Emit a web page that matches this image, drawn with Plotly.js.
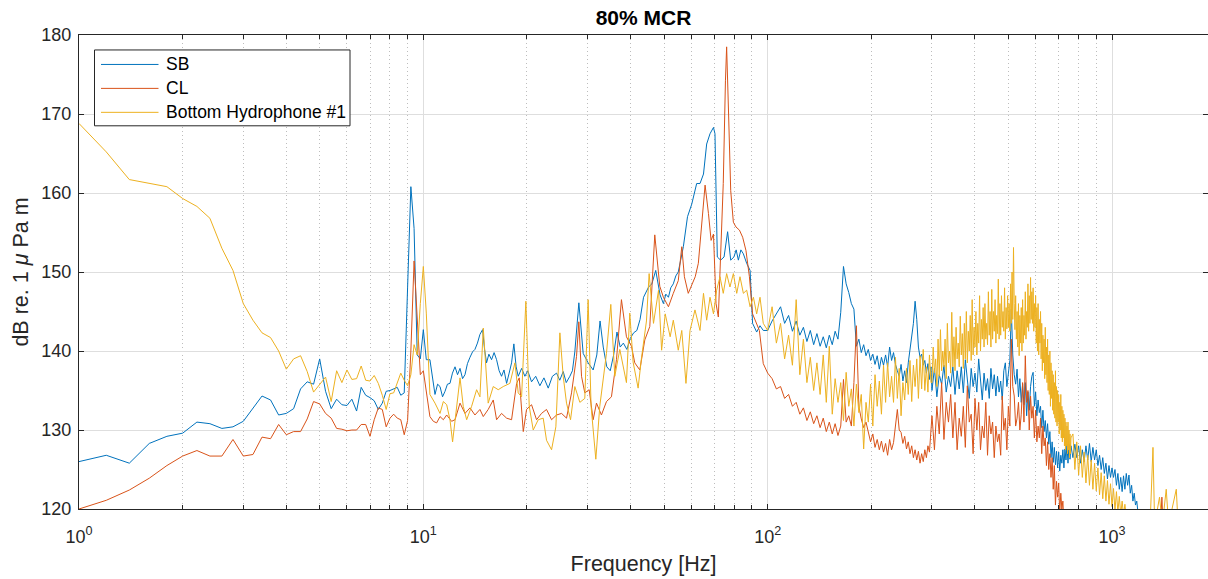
<!DOCTYPE html>
<html>
<head>
<meta charset="utf-8">
<script src="https://cdn.plot.ly/plotly-3.0.1.min.js"></script>
<style>html,body{margin:0;padding:0;background:#fff;}#chart{width:1208px;height:579px;}</style>
</head>
<body>
<div id="chart"></div>
<script>
// ================= DATA =================
// Frequency in Hz, level in dB re 1 uPa m

// 1 - 10 Hz, 0.2 Hz resolution (shared frequency axis)
var lowFreq = [1.0,1.2,1.4,1.6,1.8,2.0,2.2,2.4,2.6,2.8,
               3.0,3.2,3.4,3.6,3.8,4.0,4.2,4.4,4.6,4.8,
               5.0,5.2,5.4,5.6,5.8,6.0,6.2,6.4,6.6,6.8,
               7.0,7.2,7.4,7.6,7.8,8.0,8.2,8.4,8.6,8.8,
               9.0,9.2,9.4,9.6,9.8,10.0];
var sbLowDb = [126.0,126.8,125.8,128.3,129.2,129.6,131.0,130.8,130.2,130.4,
               131.1,132.8,134.3,133.8,131.9,132.1,132.7,135.2,136.1,135.8,
               139.0,134.9,132.7,133.9,133.2,133.1,133.9,132.4,135.4,134.4,
               134.1,133.7,132.6,133.4,134.9,135.0,135.2,135.4,134.4,134.7,
               148.0,160.8,155.5,139.5,139.0,142.7];
var clLowDb = [120.0,121.1,122.4,123.9,125.5,126.7,127.4,126.7,126.7,128.8,
               126.7,126.9,129.1,128.9,130.7,129.4,129.8,129.8,131.4,133.6,
               133.3,132.1,131.5,130.2,130.1,129.9,130.0,130.0,130.7,130.7,
               129.2,131.3,132.8,132.6,130.4,131.5,132.0,131.5,131.3,129.4,
               131.2,140.0,151.4,144.4,137.0,137.5];
var bhLowDb = [168.8,165.2,161.7,161.2,160.8,159.3,158.3,156.8,153.0,150.2,
               146.0,143.9,142.3,141.7,140.0,137.7,139.0,139.4,137.4,134.8,
               135.8,136.7,133.6,137.5,136.0,137.6,136.4,136.5,138.1,136.3,
               136.2,136.9,135.9,134.4,132.6,134.6,134.7,135.9,137.2,136.3,
               135.6,137.0,140.8,139.5,146.0,150.7];

// 10 - 100 Hz
var sbMidFreq = [10.2,10.45,10.81,11.0,11.18,11.37,11.56,11.75,11.95,12.15,
                 12.36,12.57,12.78,13.0,13.21,13.43,13.66,13.9,14.12,14.36,
                 14.6,14.86,15.06,15.26,15.5,15.78,16.05,16.32,16.6,16.87,
                 17.15,17.45,17.75,18.04,18.32,18.6,18.86,19.3,19.72,20.1,
                 20.62,21.2,21.8,22.4,23.05,23.7,24.37,24.9,25.48,26.0,
                 26.64,27.1,27.54,28.29,29.12,30.1,31.13,31.9,32.6,33.3,
                 34.1,34.9,35.7,36.5,37.3,38.1,39.0,39.9,40.8,41.7,
                 42.6,43.6,45.1,46.1,47.3,48.7,49.8,50.6,51.5,52.3,
                 53.2,54.1,55.0,56.9,58.5,60.2,62.2,63.6,65.1,66.5,
                 68.0,69.6,70.3,71.4,73.0,74.7,76.5,78.1,79.8,81.0,
                 82.2,83.6,85.0,86.9,88.9,90.4,92.9,95.0,97.1];
var sbMidDb = [138.9,138.9,134.5,135.8,135.5,134.2,134.9,135.8,135.9,137.2,
               138.0,137.0,137.8,136.5,137.0,138.4,139.2,139.9,140.2,141.0,
               142.1,142.7,140.2,138.5,139.6,138.9,139.8,138.9,137.5,136.8,
               137.6,135.9,137.2,138.5,140.9,138.0,136.8,137.8,136.8,137.5,
               136.1,136.8,135.6,136.6,135.3,136.8,137.2,136.3,137.4,136.0,
               136.8,137.5,139.9,146.1,139.7,138.5,137.6,139.5,143.8,140.5,
               138.0,137.5,139.5,142.4,140.5,141.0,140.2,141.6,142.3,142.6,
               144.0,146.8,148.1,148.5,150.2,147.1,146.0,147.2,146.8,148.0,
               148.5,149.5,150.0,153.2,157.0,158.6,161.2,161.2,162.4,166.2,
               167.5,168.3,167.5,151.9,151.5,151.9,155.1,151.5,151.9,152.8,
               151.5,152.8,152.3,151.1,150.2,143.5,142.4,143.2,142.6];

var clMidFreq = [10.22,10.45,10.69,10.93,11.18,11.43,11.69,12.08,12.36,12.78,
                 13.21,13.66,14.12,14.6,14.93,15.43,15.96,16.32,16.87,17.45,
                 18.04,18.66,18.99,19.51,19.94,20.62,21.32,22.04,22.79,23.57,
                 24.37,25.2,26.05,26.94,27.85,28.29,28.8,29.44,30.31,31.13,
                 31.83,32.9,34.03,35.18,36.38,37.61,38.89,40.22,41.12,42.52,
                 43.97,45.46,47.0,48.6,49.8,51.5,53.2,55.0,56.3,57.3,
                 58.8,60.2,61.6,62.9,64.4,65.8,67.3,68.5,69.6,70.8,
                 71.9,73.0,74.3,75.4,76.0,77.0,78.1,79.5,80.9,82.8,
                 84.6,86.5,88.5,90.4,92.5,94.6,97.1];
var clMidDb = [134.7,131.7,131.1,130.9,131.7,131.3,131.9,131.1,131.3,133.4,
               132.1,132.8,131.9,132.6,131.7,132.6,133.8,131.3,132.1,131.5,
               131.3,135.9,136.6,129.8,132.6,133.2,131.3,132.1,132.6,131.3,
               131.9,132.1,131.5,134.7,139.3,143.7,136.8,134.7,135.1,131.3,
               133.4,131.9,133.6,134.2,138.9,146.5,141.8,140.6,138.5,137.6,
               141.4,143.1,154.7,148.2,146.8,145.6,147.3,148.9,153.2,149.4,
               147.3,148.5,149.4,151.1,156.1,161.0,157.4,154.0,154.8,146.0,
               144.3,151.1,161.2,174.2,178.5,170.0,160.3,156.3,155.7,155.3,
               154.4,152.7,149.4,144.7,143.5,142.6,138.4];

var bhMidFreq = [10.2,10.45,10.81,11.18,11.43,11.69,11.95,12.16,12.49,12.78,
                 13.06,13.36,13.81,14.28,14.6,14.93,15.43,15.96,16.5,17.06,
                 17.84,18.45,18.86,19.29,19.85,20.3,20.85,21.56,22.29,22.79,
                 23.57,24.26,24.92,25.48,26.05,26.76,27.54,28.48,29.44,30.1,
                 30.7,31.69,32.54,34.03,35.03,35.98,37.2,38.89,39.77,40.66,
                 42.05,43.0,44.46,45.26,46.6,48.2,49.2,50.4,52.1,53.2,
                 55.0,56.3,57.9,59.5,61.5,63.6,65.1,66.5,68.0,69.6,
                 71.1,72.7,74.3,76.0,77.7,79.5,81.3,83.1,85.0,86.9,
                 88.9,90.9,92.9,95.0,97.1];
var bhMidDb = [144.8,134.5,133.4,132.1,133.6,133.2,131.3,128.5,133.0,136.6,
               133.0,131.3,133.0,135.1,134.2,142.9,133.4,135.5,135.1,135.5,
               135.9,138.5,134.7,134.2,146.3,133.0,130.0,131.3,131.5,128.7,
               127.5,130.4,142.3,136.8,133.4,131.3,135.5,133.5,134.0,146.5,
               133.0,126.3,133.0,139.7,145.9,136.8,140.2,136.0,144.8,138.6,
               135.3,139.1,143.8,149.8,143.5,147.7,140.1,144.7,141.8,143.9,
               140.1,142.6,135.9,142.6,145.2,142.6,147.3,143.9,146.8,144.7,
               147.7,149.4,147.3,149.8,148.1,149.8,147.3,149.4,147.3,147.7,
               145.6,146.8,144.7,146.8,143.5];

// 100 - 300 Hz (3 Hz steps)
var freqA = [100,103,106,109,112,115,118,121,124,127,
             130,133,136,139,142,145,148,151,154,157,
             160,163,166,169,172,175,178,181,184,187,
             190,193,196,199,202,205,208,211,214,217,
             220,223,226,229,232,235,238,241,244,247,
             250,253,256,259,262,265,268,271,274,277,
             280,283,286,289,292,295,298];
var sbDbA = [142.6,143.8,144.8,145.6,143.5,144.5,142.5,143.8,142.0,143.0,
             141.2,142.6,140.8,142.2,140.6,141.8,140.4,142.0,140.8,142.5,
             141.5,144.9,150.7,148.5,147.4,146.0,145.3,140.6,141.5,139.8,
             140.8,139.4,140.2,138.8,139.6,138.3,139.4,137.7,139.2,138.2,
             139.5,138.0,140.5,138.8,139.8,138.3,137.5,136.8,138.3,136.2,
             137.5,136.0,138.5,140.2,141.5,143.5,146.3,144.0,140.5,139.2,
             139.6,138.2,138.8,137.2,138.4,136.4,138.0];
var clDbA = [137.2,136.5,135.2,135.5,134.0,134.5,133.0,133.5,132.0,132.8,
             131.2,132.3,130.8,131.8,130.3,131.5,129.8,131.0,129.5,130.8,
             129.3,130.5,136.4,131.0,131.8,130.5,136.0,143.2,133.0,131.4,
             130.3,131.0,129.7,128.5,129.5,127.8,128.8,127.5,128.6,127.2,
             128.3,126.8,128.8,127.5,128.4,130.5,132.6,130.0,129.7,128.3,
             129.2,127.6,128.5,127.0,128.0,126.5,127.5,126.2,127.3,125.8,
             127.0,126.0,127.5,126.5,128.0,127.2,129.5];
var bhDbA = [142.6,145.6,141.0,143.5,139.0,142.0,138.2,146.5,137.0,141.5,
             136.0,139.2,135.0,138.5,134.5,139.5,133.5,140.6,132.0,136.5,
             133.5,136.0,131.2,137.3,133.0,135.2,130.5,135.8,132.2,134.5,
             127.6,133.5,131.0,135.8,130.5,137.0,133.0,136.2,132.0,138.2,
             133.5,138.5,134.2,136.8,133.5,139.2,134.0,137.8,131.8,136.0,
             133.8,137.8,134.5,138.8,133.6,138.2,135.5,139.0,134.0,139.4,
             135.2,140.2,135.0,138.0,134.8,139.5,136.0];

// 300 - 760 Hz (5 Hz steps) for SB and CL
var freqB = [300,305,310,315,320,325,330,335,340,345,
             350,355,360,365,370,375,380,385,390,395,
             400,405,410,415,420,425,430,435,440,445,
             450,455,460,465,470,475,480,485,490,495,
             500,505,510,515,520,525,530,535,540,545,
             550,555,560,565,570,575,580,585,590,595,
             600,605,610,615,620,625,630,635,640,645,
             650,655,660,665,670,675,680,685,690,695,
             700,705,710,715,720,725,730,735,740,745,
             750,755,760];
var sbDbB = [135.0,137.8,134.2,137.0,135.8,138.2,134.8,136.8,135.5,138.0,
             134.5,137.5,135.2,138.0,134.7,138.9,136.2,134.0,137.8,135.5,
             137.2,134.8,139.0,136.0,133.8,137.2,135.0,136.5,134.0,137.8,
             135.2,137.0,134.3,136.8,134.8,136.2,133.8,137.5,138.5,135.5,
             137.2,138.8,145.3,139.5,137.0,135.8,137.7,134.2,136.5,133.5,
             135.8,133.2,136.0,131.8,134.8,132.5,135.5,136.8,137.3,133.0,
             134.8,131.8,133.8,132.2,133.0,130.3,132.5,129.8,131.2,129.0,
             130.8,128.2,129.8,126.5,128.5,125.9,127.8,125.6,127.3,125.2,
             127.2,124.8,126.8,125.8,127.5,125.2,127.6,126.2,128.2,125.8,
             128.2,126.3,128.0];
var clDbB = [131.8,127.5,133.0,129.5,136.0,128.8,133.5,131.0,134.5,129.0,
             133.5,127.5,131.5,129.2,133.0,127.8,135.6,131.0,132.0,127.0,
             134.0,130.0,133.5,127.5,130.5,129.0,133.5,126.8,131.8,129.5,
             131.0,126.5,130.5,128.5,129.5,126.8,134.3,130.0,131.5,127.5,
             133.0,130.5,141.5,135.5,134.3,130.5,131.5,133.5,130.0,132.0,
             136.0,131.0,139.4,133.5,135.0,130.0,134.3,131.5,133.0,129.0,
             132.5,128.5,130.5,129.0,131.5,127.0,130.5,128.0,129.0,125.5,
             128.5,125.0,127.0,124.0,126.5,122.5,125.5,120.5,123.5,121.5,
             123.3,119.5,122.0,120.0,121.0,118.0,119.5,117.5,118.5,116.5,
             117.5,116.0,116.5];

// 300 - 760 Hz (2.5 Hz steps) for the bottom hydrophone
var bhFreqB = [300,302.5,305,307.5,310,312.5,315,317.5,320,322.5,
               325,327.5,330,332.5,335,337.5,340,342.5,345,347.5,
               350,352.5,355,357.5,360,362.5,365,367.5,370,372.5,
               375,377.5,380,382.5,385,387.5,390,392.5,395,397.5,
               400,402.5,405,407.5,410,412.5,415,417.5,420,422.5,
               425,427.5,430,432.5,435,437.5,440,442.5,445,447.5,
               450,452.5,455,457.5,460,462.5,465,467.5,470,472.5,
               475,477.5,480,482.5,485,487.5,490,492.5,495,497.5,
               500,502.5,505,507.5,510,512.5,515,517.5,520,522.5,
               525,527.5,530,532.5,535,537.5,540,542.5,545,547.5,
               550,552.5,555,557.5,560,562.5,565,567.5,570,572.5,
               575,577.5,580,582.5,585,587.5,590,592.5,595,597.5,
               600,602.5,605,607.5,610,612.5,615,617.5,620,622.5,
               625,627.5,630,632.5,635,637.5,640,642.5,645,647.5,
               650,652.5,655,657.5,660,662.5,665,667.5,670,672.5,
               675,677.5,680,682.5,685,687.5,690,692.5,695,697.5,
               700,702.5,705,707.5,710,712.5,715,717.5,720,722.5,
               725,727.5,730,732.5,735,737.5,740,742.5,745,747.5,
               750,752.5,755,757.5,760];
var bhDbB = [136.0,140.5,137.2,139.0,135.5,141.5,136.8,142.7,137.5,140.0,
             138.0,141.5,136.5,143.5,138.5,140.0,137.2,144.9,138.0,141.8,
             137.5,143.0,139.0,141.0,138.0,144.4,139.5,142.2,137.8,143.5,
             139.0,145.0,138.5,142.5,140.0,144.5,138.8,146.5,139.5,143.0,
             140.5,145.0,139.5,143.5,141.0,147.0,140.0,144.0,141.5,145.5,
             140.5,146.0,141.5,143.5,140.8,147.5,142.0,145.0,140.5,147.8,
             141.5,145.0,142.5,146.5,141.0,144.5,142.2,149.1,141.5,146.0,
             142.0,147.0,143.0,145.0,142.5,148.0,141.5,145.5,142.8,147.0,
             143.0,146.0,142.5,148.5,143.5,150.0,144.0,153.1,146.0,142.7,
             147.0,141.5,145.0,140.5,146.0,139.4,144.5,141.0,145.5,140.0,
             146.5,141.0,144.5,142.0,147.5,141.5,145.0,143.0,148.5,142.5,
             147.0,143.5,149.3,144.0,147.5,143.5,148.0,142.5,146.0,143.0,
             147.0,141.0,145.5,140.0,146.0,139.5,144.0,141.0,145.0,139.0,
             143.5,137.5,142.0,138.5,141.5,136.5,143.0,137.0,140.5,136.0,
             141.5,135.0,139.5,134.5,140.0,133.0,138.5,134.0,137.5,132.5,
             137.0,132.0,136.0,131.5,137.5,131.0,135.5,130.5,135.0,131.0,
             134.5,129.5,133.5,130.0,134.5,129.0,133.0,128.5,132.5,129.0,
             132.0,128.0,131.5,127.5,131.0,128.0,130.5,127.0,131.0,127.5,
             130.0,126.5,129.5,127.0,129.0];

// above 760 Hz
var sbFreqC = [770,780,790,800,810,820,830,840,850,860,
               870,880,890,900,910,920,930,940,950,960,
               970,980,990,1000,1010,1020,1030,1040,1050,1060,
               1070,1080,1090,1100,1110,1120,1130,1140,1150,1160,
               1170,1180,1190,1200,1210,1220,1230,1240,1250];
var sbDbC = [126.5,128.2,126.5,128.0,125.8,127.5,126.0,128.0,126.2,128.3,
             126.0,127.8,126.2,127.5,125.5,126.8,125.0,126.5,124.5,125.8,
             123.8,125.5,124.0,125.2,124.0,125.0,123.0,124.5,122.5,124.0,
             122.2,124.2,122.5,124.5,123.0,124.3,122.0,123.0,121.0,122.0,
             120.5,121.0,119.5,120.0,118.5,118.0,117.5,117.0,116.0];
var clFreqC = [800,1000,1300,1380,1396,1412,1450];
var clDbC = [114.0,112.0,116.0,117.0,121.5,116.0,114.0];
var bhFreqC = [770,780,790,800,810,820,830,840,850,860,
               870,880,890,900,910,920,930,940,950,960,
               970,980,990,1000,1010,1020,1030,1040,1050,1060,
               1070,1080,1090,1100,1125,1163,1200,1250,1290,1315,
               1330,1374,1400,1437,1460,1537,1560];
var bhDbC = [129.5,125.0,128.5,124.3,128.0,124.0,127.2,123.3,126.8,123.0,
             126.2,122.5,125.8,122.3,125.2,121.8,124.6,121.3,124.2,121.0,
             123.6,120.6,123.2,120.3,122.6,119.8,122.2,119.6,121.6,119.3,
             121.0,119.2,120.6,119.0,119.0,118.0,117.5,119.5,118.0,127.8,
             118.0,121.5,118.0,122.5,118.0,122.5,117.0];

var seriesNames = ['SB', 'CL', 'Bottom Hydrophone #1'];
var seriesColors = ['#0072BD', '#D95319', '#EDB120'];
var xTickVals = [1, 10, 100, 1000];
var xTickText = ['10<sup>0</sup>', '10<sup>1</sup>', '10<sup>2</sup>', '10<sup>3</sup>'];
var xMinorVals = [2,3,4,5,6,7,8,9,20,30,40,50,60,70,80,90,200,300,400,500,600,700,800,900];

// ================= BUILD =================
var font = '"Liberation Sans", Arial, Helvetica, sans-serif';
var axisColor = '#262626';

var series = [
  {x: [].concat(lowFreq, sbMidFreq, freqA, freqB, sbFreqC), y: [].concat(sbLowDb, sbMidDb, sbDbA, sbDbB, sbDbC)},
  {x: [].concat(lowFreq, clMidFreq, freqA, freqB, clFreqC), y: [].concat(clLowDb, clMidDb, clDbA, clDbB, clDbC)},
  {x: [].concat(lowFreq, bhMidFreq, freqA, bhFreqB, bhFreqC), y: [].concat(bhLowDb, bhMidDb, bhDbA, bhDbB, bhDbC)}
];

var data = series.map(function (s, i) {
  return {x: s.x, y: s.y, name: seriesNames[i], type: 'scatter', mode: 'lines',
          line: {color: seriesColors[i], width: 1}, hoverinfo: 'skip', showlegend: false};
});

// plot-area geometry (pixels) used to place the boxed legend like the original
var W = 1208, H = 579, L = 79, R = 0, T = 34.5, B = 69.5;
var pw = W - L - R, ph = H - T - B;
function px2x(p) { return (p - L) / pw; }
function py2y(p) { return (H - B - p) / ph; }

var legBox = {x0: 94.5, x1: 350, y0: 49.5, y1: 125.5};
var legRows = [64, 88, 112];
var shapes = [{type: 'rect', xref: 'paper', yref: 'paper', x0: px2x(legBox.x0), x1: px2x(legBox.x1),
               y0: py2y(legBox.y1), y1: py2y(legBox.y0), line: {color: axisColor, width: 1}, fillcolor: '#ffffff', layer: 'above'}];
var annotations = [];
legRows.forEach(function (ry, i) {
  shapes.push({type: 'line', xref: 'paper', yref: 'paper', x0: px2x(101), x1: px2x(158.5),
               y0: py2y(ry), y1: py2y(ry), line: {color: seriesColors[i], width: 1}, layer: 'above'});
  annotations.push({xref: 'paper', yref: 'paper', x: px2x(163.5), y: py2y(ry), xanchor: 'left', yanchor: 'middle',
                    text: seriesNames[i], showarrow: false, font: {family: font, size: 17.5, color: '#000000'}});
});

var layout = {
  width: W, height: H,
  margin: {l: L, r: R, t: T, b: B, pad: 0},
  paper_bgcolor: '#ffffff', plot_bgcolor: '#ffffff',
  font: {family: font, color: axisColor, size: 18},
  title: {text: '<b>80% MCR</b>', font: {family: font, size: 21, color: '#000000'},
          x: 0.5, xref: 'paper', xanchor: 'center', y: 1 - 18/579, yref: 'container', yanchor: 'middle'},
  showlegend: false,
  shapes: shapes,
  annotations: annotations,
  xaxis: {
    type: 'log', range: [0, Math.log10(1900)],
    tickmode: 'array', tickvals: xTickVals, ticktext: xTickText,
    ticks: 'inside', ticklen: 5, tickcolor: axisColor, tickwidth: 1, ticklabelstandoff: 11,
    showline: true, linecolor: axisColor, linewidth: 1, mirror: 'allticks',
    showgrid: true, gridcolor: '#dedede', gridwidth: 1, zeroline: false,
    tickfont: {family: font, size: 18, color: axisColor},
    minor: {tickmode: 'array', tickvals: xMinorVals, ticks: 'inside', ticklen: 4, tickcolor: axisColor,
            showgrid: true, gridcolor: '#bdbdbd', griddash: '1px,3px', gridwidth: 1},
    title: {text: 'Frequency [Hz]', font: {family: font, size: 21.5, color: axisColor}, standoff: 10},
    automargin: false
  },
  yaxis: {
    range: [120, 180], tickmode: 'linear', tick0: 120, dtick: 10,
    ticks: 'inside', ticklen: 5, tickcolor: axisColor, tickwidth: 1, ticklabelstandoff: 3,
    showline: true, linecolor: axisColor, linewidth: 1, mirror: 'allticks',
    showgrid: true, gridcolor: '#dedede', gridwidth: 1, zeroline: false,
    tickfont: {family: font, size: 18, color: axisColor},
    title: {text: 'dB re. 1 <i>μ</i> Pa m', font: {family: font, size: 21.5, color: axisColor}, standoff: 6},
    automargin: false
  }
};

Plotly.newPlot('chart', data, layout, {staticPlot: true, displayModeBar: false});
</script>
</body>
</html>
